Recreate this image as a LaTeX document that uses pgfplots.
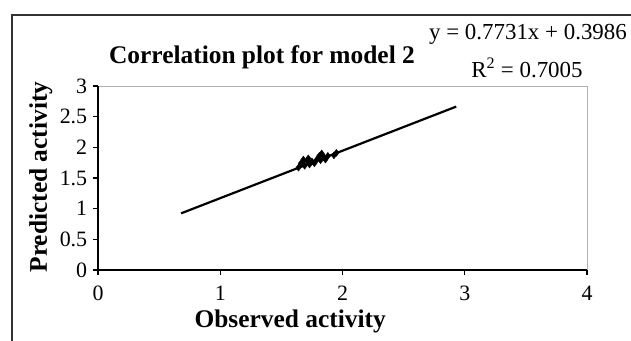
\documentclass[border=0pt]{standalone}
\usepackage{fontspec}
\setmainfont{Liberation Serif}
\usepackage{pgfplots}
\pgfplotsset{compat=1.18}
\begin{document}
\fontsize{20}{24}\selectfont
\begin{tikzpicture}[x=1bp,y=1bp]
\begin{axis}[
  name=ax,
  at={(0,0)}, anchor=south west,
  scale only axis, width=489bp, height=184bp,
  xmin=0, xmax=4, ymin=0, ymax=3,
  xtick={0,1,2,3,4}, ytick={0,0.5,1,1.5,2,2.5,3},
  tick align=outside, tick pos=left,
  major tick length=5bp,
  axis line style={draw=none},
  /pgf/number format/assume math mode=true,
  ticklabel style={font=\fontsize{22}{24}\selectfont},
  yticklabel style={xshift=1bp},
  xticklabel style={yshift=-4bp},
  tick style={black, line width=1.2pt},
  every axis x label/.style={at={(axis description cs:0.393,0)}, anchor=center, yshift=-51bp, font=\fontsize{25.5}{28}\selectfont\bfseries},
  every axis y label/.style={at={(axis description cs:-0.117,0.505)}, anchor=center, rotate=90, font=\fontsize{25.5}{28}\selectfont\bfseries},
  xlabel={Observed activity},
  ylabel={Predicted activity},
  clip=false,
]
\draw[gray!60, line width=0.8pt] (axis cs:0,3) -- (axis cs:4,3) -- (axis cs:4,0);
\draw[black, line width=1.3pt] (axis cs:0,3) -- (axis cs:0,0) -- (axis cs:4,0);
\addplot[black, line width=2.2pt, no marks] coordinates {(0.68,0.924) (2.93,2.664)};
\addplot[only marks, mark=diamond*, mark size=3.5pt, black] coordinates {
(1.64,1.67) (1.66,1.74) (1.68,1.80) (1.69,1.70) (1.71,1.78) (1.72,1.82)
(1.73,1.72) (1.75,1.77) (1.77,1.74) (1.79,1.80) (1.81,1.86) (1.82,1.79)
(1.83,1.90) (1.85,1.84) (1.86,1.80) (1.88,1.86) (1.93,1.87) (1.95,1.91)
};
\end{axis}
\node[font=\fontsize{25.5}{28}\selectfont\bfseries] at (164,213) {Correlation plot for model 2};
\node[font=\fontsize{23}{26}\selectfont] at (430,236) {y = 0.7731x + 0.3986};
\node[font=\fontsize{23}{26}\selectfont] at (429,202) {R$^{\mathrm{2}}$ = 0.7005};
\draw[black!80, line width=1.8pt] (-86,-120) -- (-86,255) -- (650,255);
\pgfresetboundingbox
\path[use as bounding box] (-98,-70) rectangle (533,270);
\end{tikzpicture}
\end{document}
